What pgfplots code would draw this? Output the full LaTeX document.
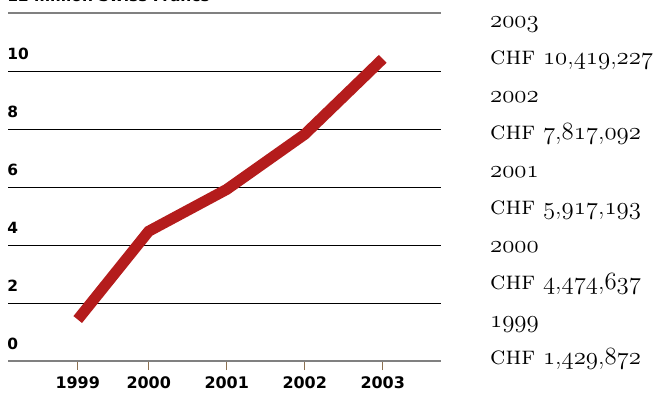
\documentclass[border=0pt]{standalone}
\usepackage{pgfplots}
\pgfplotsset{compat=1.18}
\usepackage{fontspec}
\newfontfamily\tickfont{DejaVu Sans}
\definecolor{linered}{HTML}{B41C1C}
\definecolor{tickbrown}{HTML}{8C7050}
\newcommand\osf[1]{{\usefont{OML}{lmm}{m}{it}#1}}
\newcommand\rfont{\fontsize{26}{30}\selectfont}
\begin{document}
\begin{tikzpicture}[x=1bp,y=1bp]
\useasboundingbox (0,0) rectangle (663,393);
\clip (0,0) rectangle (663,393);
\begin{axis}[
  at={(8bp,32bp)}, anchor=south west,
  x=78bp, y=29bp,
  xmin=1998.196, xmax=2003.747, ymin=0, ymax=12,
  axis line style={draw=none},
  xtick={1999.09,2000,2002}, xticklabels={1999,2000,2002},
  extra x ticks={2001,2003}, extra x tick labels={2001,2003},
  extra x tick style={tick style={draw=black}},
  xtick pos=bottom, tick align=outside, major tick length=9bp,
  x tick style={draw=tickbrown, line width=1.2bp},
  ytick={2,4,6,8,10}, yticklabels={2,4,6,8,10},
  ymajorgrids, grid style={black, line width=0.9bp},
  y tick style={draw=none},
  extra y ticks={0,12}, extra y tick labels={0,12 million Swiss Francs},
  extra y tick style={grid style={draw=black!50, line width=1.6bp}, tick style={draw=none}},
  yticklabel style={anchor=south west, inner sep=0pt, yshift=11bp, xshift=8bp, font=\tickfont\bfseries\fontsize{15.5}{17}\selectfont},
  xticklabel style={inner sep=0pt, yshift=-6bp, font=\tickfont\bfseries\fontsize{16}{18}\selectfont},
]
\addplot[linered, line width=11bp, line cap=butt, line join=miter] coordinates {(1999.09,1.430) (2000,4.475) (2001,5.917) (2002,7.817) (2003,10.419)};
\end{axis}
\node[anchor=base west, inner sep=0] at (490,366) {\rfont\osf{2003}};
\node[anchor=base west, inner sep=0] at (490,329) {\rfont\textsc{chf} \osf{10},\osf{419},\osf{227}};
\node[anchor=base west, inner sep=0] at (490,291) {\rfont\osf{2002}};
\node[anchor=base west, inner sep=0] at (490,254) {\rfont\textsc{chf} \osf{7},\osf{817},\osf{092}};
\node[anchor=base west, inner sep=0] at (490,216) {\rfont\osf{2001}};
\node[anchor=base west, inner sep=0] at (490,179) {\rfont\textsc{chf} \osf{5},\osf{917},\osf{193}};
\node[anchor=base west, inner sep=0] at (490,141) {\rfont\osf{2000}};
\node[anchor=base west, inner sep=0] at (490,104) {\rfont\textsc{chf} \osf{4},\osf{474},\osf{637}};
\node[anchor=base west, inner sep=0] at (490,66) {\rfont\osf{1999}};
\node[anchor=base west, inner sep=0] at (490,29) {\rfont\textsc{chf} \osf{1},\osf{429},\osf{872}};
\end{tikzpicture}
\end{document}
